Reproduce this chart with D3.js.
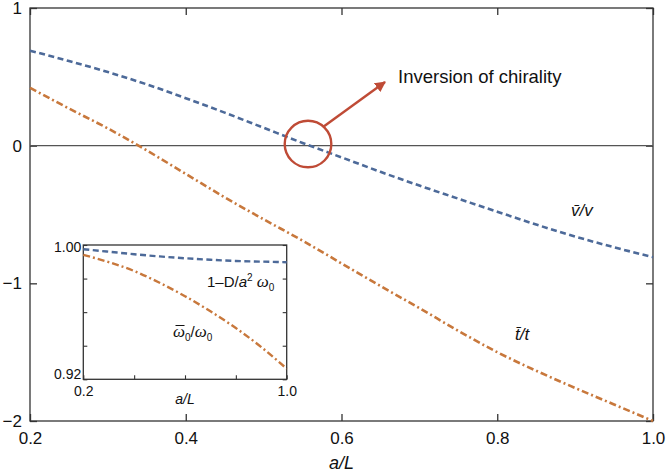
<!DOCTYPE html>
<html>
<head>
<meta charset="utf-8">
<script src="https://cdn.jsdelivr.net/npm/d3@7/dist/d3.min.js"></script>
<style>
  body { margin: 0; background: #fff; }
  svg { display: block; font-family: "Liberation Sans", Arial, sans-serif; }
</style>
</head>
<body>
<svg id="chart" width="666" height="473"></svg>
<script>
// ---- data ----
const aL = [0.2, 0.25, 0.3, 0.35, 0.4, 0.45, 0.5, 0.55, 0.6, 0.65, 0.7, 0.75, 0.8, 0.85, 0.9, 0.95, 1.0];
const vRatio = [0.69, 0.615, 0.535, 0.445, 0.345, 0.24, 0.13, 0.02, -0.085, -0.19, -0.29, -0.385, -0.48, -0.573, -0.66, -0.738, -0.81];
const tRatio = [0.42, 0.27, 0.125, -0.035, -0.205, -0.375, -0.535, -0.69, -0.855, -1.02, -1.18, -1.345, -1.50, -1.635, -1.76, -1.88, -2.0];

const insetA = [0.2, 0.3, 0.4, 0.5, 0.6, 0.7, 0.8, 0.9, 1.0];
const insetD = [0.9975, 0.9960, 0.9945, 0.9932, 0.9921, 0.9912, 0.9905, 0.9901, 0.98975];
const insetW = [0.9941, 0.9898, 0.9845, 0.9775, 0.9695, 0.9605, 0.9505, 0.9392, 0.9263];

const xTicks = [0.2, 0.4, 0.6, 0.8, 1.0];
const yTicks = [-2, -1, 0, 1];
const insetXTicks = [0.2, 0.4, 0.6, 0.8, 1.0];
const insetXLabels = [0.2, 1.0];
const insetYTicks = [0.92, 0.94, 0.96, 0.98, 1.00];
const insetYLabels = [0.92, 1.00];

const annotation = { a: 0.557, v: 0.012, text: "Inversion of chirality" };

// ---- style ----
const BLUE = "#4d6a99", ORANGE = "#c8783c", RED = "#bf4b36", FRAME = "#333";

const svg = d3.select("#chart");
const x = d3.scaleLinear().domain([0.2, 1.0]).range([30, 653]);
const y = d3.scaleLinear().domain([-2, 1]).range([421, 8]);

// frame
svg.append("rect").attr("x", 30).attr("y", 8).attr("width", 623).attr("height", 413)
  .attr("fill", "none").attr("stroke", FRAME).attr("stroke-width", 1.3);

// axes
const fs = 17;
const gx = svg.append("g").attr("transform", "translate(0,421)")
  .call(d3.axisBottom(x).tickValues(xTicks).tickFormat(d3.format(".1f")).tickSize(-7).tickPadding(11));
const gxt = svg.append("g").attr("transform", "translate(0,8)")
  .call(d3.axisTop(x).tickValues(xTicks).tickFormat("").tickSize(-7));
const gy = svg.append("g").attr("transform", "translate(30,0)")
  .call(d3.axisLeft(y).tickValues(yTicks).tickFormat(d3.format("d")).tickSize(-7).tickPadding(8));
const gyr = svg.append("g").attr("transform", "translate(653,0)")
  .call(d3.axisRight(y).tickValues(yTicks).tickFormat("").tickSize(-7));
[gx, gxt, gy, gyr].forEach(g => {
  g.select(".domain").remove();
  g.selectAll(".tick line").attr("stroke", FRAME).attr("stroke-width", 1.3);
  g.selectAll("text").attr("font-size", fs).attr("fill", "#111").attr("font-family", "Liberation Sans, Arial, sans-serif");
});

// zero line
svg.append("line").attr("x1", x(0.2)).attr("x2", x(1.0)).attr("y1", y(0)).attr("y2", y(0))
  .attr("stroke", "#555").attr("stroke-width", 1.3);

// axis title
svg.append("text").attr("x", x(0.6)).attr("y", 469).attr("text-anchor", "middle")
  .attr("font-size", 18).attr("font-style", "italic").attr("fill", "#111").text("a/L");

// curves
const lineMain = (arr) => d3.line().x((d, i) => x(aL[i])).y((d, i) => y(arr[i])).curve(d3.curveMonotoneX)(arr);
svg.append("path").attr("d", lineMain(vRatio)).attr("fill", "none").attr("stroke", BLUE)
  .attr("stroke-width", 2.6).attr("stroke-dasharray", "6,3.5");
svg.append("path").attr("d", lineMain(tRatio)).attr("fill", "none").attr("stroke", ORANGE)
  .attr("stroke-width", 2.6).attr("stroke-dasharray", "7,3,2,3");

// curve labels
svg.append("text").attr("x", 571).attr("y", 216).attr("font-size", 17).attr("font-style", "italic")
  .attr("fill", "#111").text("v\u0304/v");
svg.append("text").attr("x", 515).attr("y", 340).attr("font-size", 17).attr("font-style", "italic")
  .attr("fill", "#111").text("t\u0304/t");

// annotation
const cx = x(annotation.a), cy = y(annotation.v);
svg.append("circle").attr("cx", cx).attr("cy", cy).attr("r", 23.3).attr("fill", "none")
  .attr("stroke", RED).attr("stroke-width", 2.4);
svg.append("defs").append("marker").attr("id", "ah").attr("viewBox", "0 0 10 10")
  .attr("refX", 9).attr("refY", 5).attr("markerWidth", 4.5).attr("markerHeight", 4.5)
  .attr("markerUnits", "strokeWidth").attr("orient", "auto")
  .append("path").attr("d", "M0,0 L10,5 L0,10 z").attr("fill", RED);
svg.append("line").attr("x1", cx + 15).attr("y1", cy - 17).attr("x2", cx + 77).attr("y2", cy - 62)
  .attr("stroke", RED).attr("stroke-width", 2.4).attr("marker-end", "url(#ah)");
svg.append("text").attr("x", 398).attr("y", 83).attr("font-size", 18.5).attr("fill", "#111")
  .text(annotation.text);

// ---- inset ----
const ix = d3.scaleLinear().domain([0.2, 1.0]).range([83.3, 286.7]);
const iy = d3.scaleLinear().domain([0.92, 1.00]).range([379.3, 245]);
svg.append("rect").attr("x", 83.3).attr("y", 245).attr("width", 203.4).attr("height", 134.3)
  .attr("fill", "#fff").attr("stroke", FRAME).attr("stroke-width", 1.3);

const ifs = 14;
const igx = svg.append("g").attr("transform", "translate(0,379.3)")
  .call(d3.axisBottom(ix).tickValues(insetXTicks)
    .tickFormat(d => insetXLabels.includes(d) ? d3.format(".1f")(d) : "").tickSize(-4).tickPadding(7));
const igy = svg.append("g").attr("transform", "translate(83.3,0)")
  .call(d3.axisLeft(iy).tickValues(insetYTicks)
    .tickFormat(d => insetYLabels.includes(d) ? d3.format(".2f")(d) : "").tickSize(-4).tickPadding(2));
const igyr = svg.append("g").attr("transform", "translate(286.7,0)")
  .call(d3.axisRight(iy).tickValues(insetYTicks).tickFormat("").tickSize(-4));
[igx, igy, igyr].forEach(g => {
  g.select(".domain").remove();
  g.selectAll(".tick line").attr("stroke", FRAME).attr("stroke-width", 1.1);
  g.selectAll("text").attr("font-size", ifs).attr("fill", "#111").attr("font-family", "Liberation Sans, Arial, sans-serif");
});
igx.selectAll("text").attr("dy", "0.71em");
igy.selectAll(".tick text").filter(d => d === 0.92).attr("dy", "-0.05em");
igy.selectAll(".tick text").filter(d => d === 1.00).attr("dy", "0.45em");

svg.append("text").attr("x", ix(0.6)).attr("y", 404).attr("text-anchor", "middle")
  .attr("font-size", 14).attr("font-style", "italic").attr("fill", "#111").text("a/L");

const lineInset = (arr) => d3.line().x((d, i) => ix(insetA[i])).y((d, i) => iy(arr[i])).curve(d3.curveMonotoneX)(arr);
svg.append("path").attr("d", lineInset(insetD)).attr("fill", "none").attr("stroke", BLUE)
  .attr("stroke-width", 2.4).attr("stroke-dasharray", "6,3.5");
svg.append("path").attr("d", lineInset(insetW)).attr("fill", "none").attr("stroke", ORANGE)
  .attr("stroke-width", 2.4).attr("stroke-dasharray", "7,3,2,3");

// inset labels
const t1 = svg.append("text").attr("x", 207).attr("y", 287).attr("font-size", 15).attr("fill", "#111");
t1.append("tspan").text("1\u2013D/");
t1.append("tspan").attr("font-style", "italic").text("a");
t1.append("tspan").attr("font-size", 10).attr("dy", -6).text("2");
t1.append("tspan").attr("dy", 6).text(" ");
t1.append("tspan").attr("font-family", "Liberation Serif, serif").attr("font-style", "italic").attr("font-size", 17).text("\u03c9");
t1.append("tspan").attr("font-size", 10).attr("dy", 4).text("0");

const t2y = 337;
const t2 = svg.append("text").attr("x", 173).attr("y", t2y).attr("font-size", 15).attr("fill", "#111");
t2.append("tspan").attr("font-family", "Liberation Serif, serif").attr("font-style", "italic").attr("font-size", 17).text("\u03c9");
t2.append("tspan").attr("font-size", 10).attr("dy", 4).text("0");
t2.append("tspan").attr("dy", -4).text("/");
t2.append("tspan").attr("font-family", "Liberation Serif, serif").attr("font-style", "italic").attr("font-size", 17).text("\u03c9");
t2.append("tspan").attr("font-size", 10).attr("dy", 4).text("0");
// macron over first omega
const ext = t2.node().getExtentOfChar(0);
svg.append("line").attr("x1", ext.x + 2.5).attr("x2", ext.x + ext.width - 0.5)
  .attr("y1", t2y - 11.5).attr("y2", t2y - 11.5).attr("stroke", "#111").attr("stroke-width", 1);
</script>
</body>
</html>
